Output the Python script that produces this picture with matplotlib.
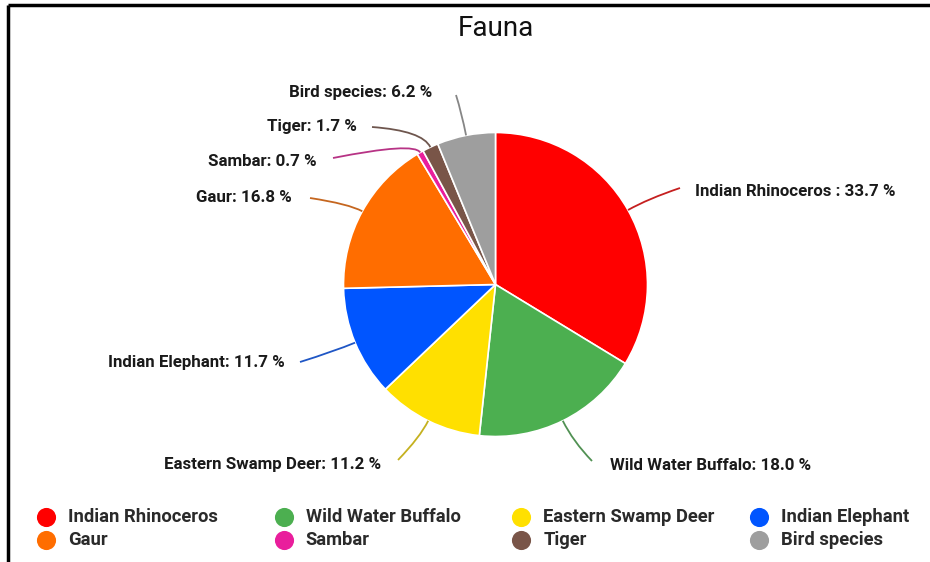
import numpy as np
import matplotlib.pyplot as plt
from matplotlib.path import Path
from matplotlib.patches import PathPatch
from matplotlib.colors import to_rgb

plt.rcParams['font.family'] = ['Roboto', 'DejaVu Sans']

title = "Fauna"
animals = ["Indian Rhinoceros", "Wild Water Buffalo", "Eastern Swamp Deer", "Indian Elephant",
           "Gaur", "Sambar", "Tiger", "Bird species"]
shares = [33.7, 18.0, 11.2, 11.7, 16.8, 0.7, 1.7, 6.2]
label_sep = [" : ", ": ", ": ", ": ", ": ", ": ", ": ", ": "]
colors = ["#ff0000", "#4caf50", "#ffe000", "#0055ff", "#ff6d00", "#e91e9c", "#795548", "#9e9e9e"]

W, H = 930, 562
cx, cy, R = 495.5, 284.5, 152

# label text anchor (x, y, ha), end of leader line, elbow factor along the radius
label_pos = [(695, 191, "left"), (610, 465, "left"), (381, 465, "right"), (285, 363, "right"),
             (292, 197, "right"), (317, 161, "right"), (357, 126, "right"), (432, 92, "right")]
line_end = [(680, 188), (592, 461), (398, 460), (300, 362), (310, 198), (333, 158), (372, 127), (456, 95)]
elbow = [1.15, 1.15, 1.12, 1.15, 1.1, 1.08, 1.12, 1.15]

fig = plt.figure(figsize=(W / 100, H / 100), dpi=100)
ax = fig.add_axes([0, 0, 1, 1])

# axes in pixel units with y pointing down, so counterclock in data = clockwise on screen
ax.pie(shares, colors=colors, startangle=-90, counterclock=True, center=(cx, cy), radius=R,
       wedgeprops=dict(edgecolor="white", linewidth=1.2))
ax.set_xlim(0, W)
ax.set_ylim(H, 0)
ax.set_aspect("auto")
ax.axis("off")

# leader lines and labels
ends = np.cumsum(shares)
mids = (ends - np.array(shares) / 2) / 100 * 2 * np.pi
for i, name in enumerate(animals):
    a = mids[i]
    p0 = (cx + R * np.sin(a), cy - R * np.cos(a))
    k = elbow[i]
    p1 = (cx + R * k * np.sin(a), cy - R * k * np.cos(a))
    p2 = line_end[i]
    lc = 0.65 * np.array(to_rgb(colors[i])) + 0.35 * np.array([0.35, 0.35, 0.35])
    path = Path([p0, p1, p2], [Path.MOVETO, Path.CURVE3, Path.CURVE3])
    ax.add_patch(PathPatch(path, fill=False, edgecolor=lc, linewidth=1.3))
    tx, ty, ha = label_pos[i]
    ax.text(tx, ty, f"{name}{label_sep[i]}{shares[i]:.1f} %", ha=ha, va="center",
            fontsize=12.2, fontweight="bold", color="#1a1a1a")

ax.text(496, 28, title, ha="center", va="center", fontsize=20, color="#111111")

# legend, four per row
for i, name in enumerate(animals):
    col, row = i % 4, i // 4
    mx = 46 + 237.7 * col
    my = 517 + 23 * row
    ax.scatter(mx, my, s=190, color=colors[i], zorder=3, linewidths=0)
    ax.text(mx + 22, my, name, ha="left", va="center", fontsize=13.2, fontweight="bold",
            color="#2a2a2a")

# frame along top and left
ax.plot([8, W + 5], [5, 5], color="black", linewidth=2.5, solid_capstyle="butt")
ax.plot([8, 8], [5, H + 5], color="black", linewidth=2.5, solid_capstyle="butt")

fig.savefig("out.png", dpi=100, facecolor="white")
